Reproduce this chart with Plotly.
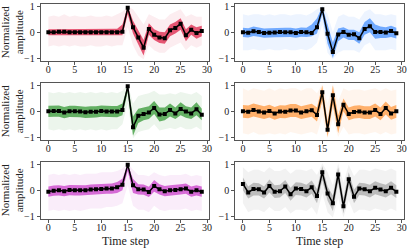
import plotly.graph_objects as go
from plotly.subplots import make_subplots

t = list(range(30))
x_ticks = [0, 5, 10, 15, 20, 25, 30]
y_ticks = [-1, 0, 1]

# ---- panel 1 (red) ----
red_mean = [0, 0, .02, .02, 0, 0, 0, 0, 0, 0, 0, 0, 0, 0, .02, .95, .20, -.20, -.60, .13, -.10, -.20, -.23, .08, .17, .33, -.12, .10, -.03, .05]
red_in_hi = [.12, .12, .14, .14, .12, .12, .12, .12, .12, .12, .12, .12, .12, .14, .30, 1.0, .45, .10, -.30, .35, .12, .02, .00, .30, .40, .55, .12, .30, .20, .25]
red_in_lo = [-.12, -.12, -.10, -.10, -.12, -.12, -.12, -.12, -.12, -.12, -.12, -.12, -.12, -.12, -.12, .70, -.05, -.50, -.90, -.10, -.30, -.42, -.45, -.15, -.05, .10, -.35, -.10, -.25, -.15]
red_out_hi = [.60, .65, .60, .70, .60, .65, .60, .60, .65, .60, .60, .65, .60, .70, .80, 1.0, .90, .60, .30, .70, .60, .50, .50, .70, .80, .90, .60, .70, .60, .60]
red_out_lo = [-.55, -.50, -.55, -.50, -.55, -.50, -.55, -.55, -.50, -.55, -.55, -.50, -.55, -.50, -.50, .20, -.50, -.90, -1.05, -.50, -.70, -.80, -.80, -.60, -.50, -.40, -.70, -.50, -.60, -.50]

# ---- panel 2 (blue) ----
blue_mean = [0, -.02, .04, .01, -.03, -.02, -.01, .01, 0, 0, -.03, .01, 0, -.03, .20, .90, -.06, -.77, -.09, .01, -.10, -.08, -.23, .13, .23, .01, .01, -.01, .05, -.04]
blue_in_hi = [.18, .16, .22, .19, .15, .16, .17, .19, .18, .18, .15, .19, .18, .30, .55, 1.0, .30, -.40, .15, .20, .10, .10, .00, .40, .55, .30, .22, .20, .25, .18]
blue_in_lo = [-.18, -.20, -.14, -.17, -.21, -.20, -.19, -.17, -.18, -.18, -.21, -.17, -.18, -.15, -.05, .70, -.45, -1.0, -.35, -.20, -.30, -.30, -.45, -.10, .00, -.25, -.22, -.22, -.18, -.24]
blue_out_hi = [.70, .65, .70, .70, .65, .70, .65, .70, .70, .65, .70, .70, .65, .75, .90, 1.0, .70, .00, .60, .70, .60, .60, .50, .80, .90, .70, .70, .65, .70, .65]
blue_out_lo = [-.70, -.70, -.65, -.70, -.70, -.65, -.70, -.70, -.65, -.70, -.70, -.65, -.70, -.60, -.40, .30, -.80, -1.05, -.80, -.70, -.70, -.70, -.80, -.50, -.40, -.70, -.70, -.70, -.65, -.70]

# ---- panel 3 (green) ----
green_mean = [0, .01, .01, -.05, 0, 0, -.01, -.04, -.02, -.02, .01, -.01, -.01, -.01, .05, .97, -.62, -.17, -.10, -.05, .13, -.12, -.10, .05, -.08, .09, -.01, -.08, .08, -.13]
green_in_hi = [.22, .23, .23, .17, .22, .22, .21, .18, .20, .20, .23, .21, .21, .21, .30, 1.0, -.20, .10, .15, .20, .40, .15, .15, .30, .15, .35, .20, .15, .35, .10]
green_in_lo = [-.22, -.21, -.21, -.27, -.22, -.22, -.23, -.26, -.24, -.24, -.21, -.23, -.23, -.23, -.15, .75, -.95, -.45, -.35, -.30, -.10, -.40, -.35, -.20, -.30, -.15, -.25, -.30, -.15, -.35]
green_out_hi = [.75, .70, .75, .70, .75, .70, .75, .70, .75, .70, .75, .70, .75, .70, .80, 1.05, .30, .60, .65, .70, .80, .65, .65, .70, .65, .75, .70, .65, .75, .60]
green_out_lo = [-.70, -.75, -.70, -.75, -.70, -.75, -.70, -.75, -.70, -.75, -.70, -.75, -.70, -.70, -.50, .30, -1.05, -.80, -.75, -.70, -.50, -.75, -.70, -.65, -.70, -.60, -.70, -.70, -.60, -.75]

# ---- panel 4 (orange) ----
orange_mean = [0, -.02, .05, -.01, -.05, .01, -.08, -.01, -.02, .03, .03, -.05, 0, .04, -.14, .74, -.72, .62, -.50, .26, -.10, -.03, -.01, -.05, -.05, .05, -.10, .13, -.08, 0]
orange_in_hi = [.25, .23, .30, .24, .20, .26, .17, .24, .23, .28, .28, .20, .25, .29, .15, 1.0, -.40, 1.0, -.15, .50, .15, .22, .24, .20, .20, .30, .15, .38, .17, .25]
orange_in_lo = [-.25, -.27, -.20, -.26, -.30, -.24, -.33, -.26, -.27, -.22, -.22, -.30, -.25, -.21, -.40, .40, -1.0, .25, -.85, .00, -.35, -.28, -.26, -.30, -.30, -.20, -.35, -.12, -.33, -.25]
orange_out_hi = [.90, .80, .90, .85, .80, .90, .80, .90, .85, .90, .90, .80, .90, .90, .70, 1.05, .30, 1.05, .40, .90, .80, .85, .85, .80, .85, .90, .80, .90, .80, .85]
orange_out_lo = [-.85, -.90, -.80, -.90, -.90, -.85, -.90, -.85, -.90, -.80, -.85, -.90, -.85, -.80, -.90, -.20, -1.05, -.30, -1.0, -.60, -.90, -.85, -.85, -.90, -.85, -.80, -.90, -.80, -.90, -.85]

# ---- panel 5 (purple) ----
purple_mean = [-.05, -.01, 0, -.03, .01, 0, 0, 0, .03, .04, .05, .07, .07, .12, .22, 1.0, .20, .04, .03, -.06, .17, .04, -.03, 0, .01, .04, .07, -.05, 0, -.05]
purple_in_hi = [.15, .19, .20, .17, .21, .20, .20, .20, .23, .24, .25, .27, .27, .33, .45, 1.0, .45, .24, .23, .14, .40, .24, .17, .20, .21, .24, .27, .15, .20, .15]
purple_in_lo = [-.25, -.21, -.20, -.23, -.19, -.20, -.20, -.20, -.17, -.16, -.15, -.13, -.13, -.10, .00, .75, -.10, -.16, -.17, -.26, -.05, -.16, -.23, -.20, -.19, -.16, -.13, -.25, -.20, -.25]
purple_out_hi = [.60, .65, .60, .65, .60, .65, .60, .65, .65, .65, .70, .70, .70, .75, .85, 1.05, .80, .60, .60, .55, .70, .60, .55, .60, .60, .60, .65, .55, .60, .55]
purple_out_lo = [-.80, -.75, -.80, -.75, -.80, -.75, -.80, -.75, -.70, -.70, -.70, -.65, -.65, -.60, -.50, .20, -.60, -.75, -.75, -.85, -.60, -.75, -.80, -.75, -.75, -.75, -.70, -.80, -.75, -.80]

# ---- panel 6 (gray) ----
gray_mean = [.25, -.08, .05, .04, -.08, .17, -.05, -.03, .15, -.15, .07, .05, -.03, .12, -.22, .70, -.12, -.50, .62, -.62, .43, -.25, .07, .04, -.03, .10, .03, -.03, .10, -.05]
gray_in_hi = [.50, .15, .30, .28, .15, .42, .20, .22, .40, .10, .32, .30, .22, .38, .05, .95, .15, -.20, .90, -.30, .70, .02, .30, .28, .22, .35, .28, .22, .35, .20]
gray_in_lo = [.00, -.32, -.20, -.20, -.32, -.08, -.30, -.28, -.10, -.40, -.18, -.20, -.28, -.13, -.50, .40, -.40, -.80, .30, -.90, .15, -.50, -.18, -.20, -.28, -.15, -.22, -.28, -.15, -.30]
gray_out_hi = [.90, .70, .80, .80, .70, .90, .75, .75, .85, .65, .80, .80, .75, .85, .60, 1.05, .70, .20, 1.05, .30, 1.0, .55, .80, .80, .75, .85, .80, .75, .85, .75]
gray_out_lo = [-.50, -.85, -.75, -.75, -.85, -.65, -.80, -.80, -.65, -.90, -.75, -.75, -.80, -.65, -.95, -.10, -.85, -1.05, -.30, -1.05, -.40, -.90, -.75, -.75, -.80, -.70, -.75, -.80, -.70, -.80]

panels = [
    (1, 1, "220,20,60", 0.7, red_mean, red_in_lo, red_in_hi, red_out_lo, red_out_hi),
    (1, 2, "30,120,255", 0.6, blue_mean, blue_in_lo, blue_in_hi, blue_out_lo, blue_out_hi),
    (2, 1, "10,130,10", 0.6, green_mean, green_in_lo, green_in_hi, green_out_lo, green_out_hi),
    (2, 2, "255,130,20", 0.6, orange_mean, orange_in_lo, orange_in_hi, orange_out_lo, orange_out_hi),
    (3, 1, "190,20,190", 0.6, purple_mean, purple_in_lo, purple_in_hi, purple_out_lo, purple_out_hi),
    (3, 2, "90,90,90", 0.35, gray_mean, gray_in_lo, gray_in_hi, gray_out_lo, gray_out_hi),
]

fig = make_subplots(rows=3, cols=2)

for r, c, rgb, a_in, mean, ilo, ihi, olo, ohi in panels:
    xs = t + t[::-1]
    fig.add_trace(go.Scatter(x=xs, y=ohi + olo[::-1], fill="toself", mode="lines",
                             line=dict(width=0), fillcolor=f"rgba({rgb},0.08)",
                             hoverinfo="skip", showlegend=False), row=r, col=c)
    fig.add_trace(go.Scatter(x=xs, y=ihi + ilo[::-1], fill="toself", mode="lines",
                             line=dict(width=0), fillcolor=f"rgba({rgb},{a_in})",
                             hoverinfo="skip", showlegend=False), row=r, col=c)
    fig.add_trace(go.Scatter(x=t, y=mean, mode="lines+markers",
                             line=dict(color="black", width=1.5),
                             marker=dict(color="black", size=4, symbol="square"),
                             showlegend=False), row=r, col=c)

W, H = 409, 249
xdom = {1: [41 / W, 211 / W], 2: [237 / W, 407 / W]}
ydom = {1: [1 - 59 / H, 1 - 1 / H], 2: [1 - 140 / H, 1 - 82 / H], 3: [1 - 221 / H, 1 - 163 / H]}

font = "Liberation Serif, Times New Roman, serif"
axis_style = dict(showline=True, mirror=True, linecolor="#555", linewidth=1,
                  ticks="outside", ticklen=3, tickwidth=1, tickcolor="#555",
                  showgrid=False, zeroline=False,
                  tickfont=dict(family=font, size=10, color="#222"))

for r in (1, 2, 3):
    for c in (1, 2):
        fig.update_xaxes(domain=xdom[c], range=[-1.45, 30.45], tickvals=x_ticks,
                         ticklabelstandoff=-4, row=r, col=c, **axis_style)
        fig.update_yaxes(domain=ydom[r], range=[-1.1, 1.1], tickvals=y_ticks,
                         row=r, col=c, **axis_style)

for r in (1, 2, 3):
    yc = (ydom[r][0] + ydom[r][1]) / 2
    fig.add_annotation(text="Normalized<br>amplitude", textangle=-90, x=12 / W, y=yc,
                       xref="paper", yref="paper", xanchor="center", yanchor="middle",
                       showarrow=False, font=dict(family=font, size=11, color="#222"))

for c in (1, 2):
    xc = (xdom[c][0] + xdom[c][1]) / 2
    fig.add_annotation(text="Time step", x=xc, y=0, xref="paper", yref="paper",
                       xanchor="center", yanchor="bottom", yshift=-3, borderpad=0,
                       showarrow=False, font=dict(family=font, size=12, color="#222"))

fig.update_layout(width=W, height=H, margin=dict(l=0, r=0, t=0, b=0),
                  plot_bgcolor="white", paper_bgcolor="white")

fig.write_html("out.html", config={"displayModeBar": False},
               post_script="document.body.style.margin='0';document.body.style.overflow='hidden';")
